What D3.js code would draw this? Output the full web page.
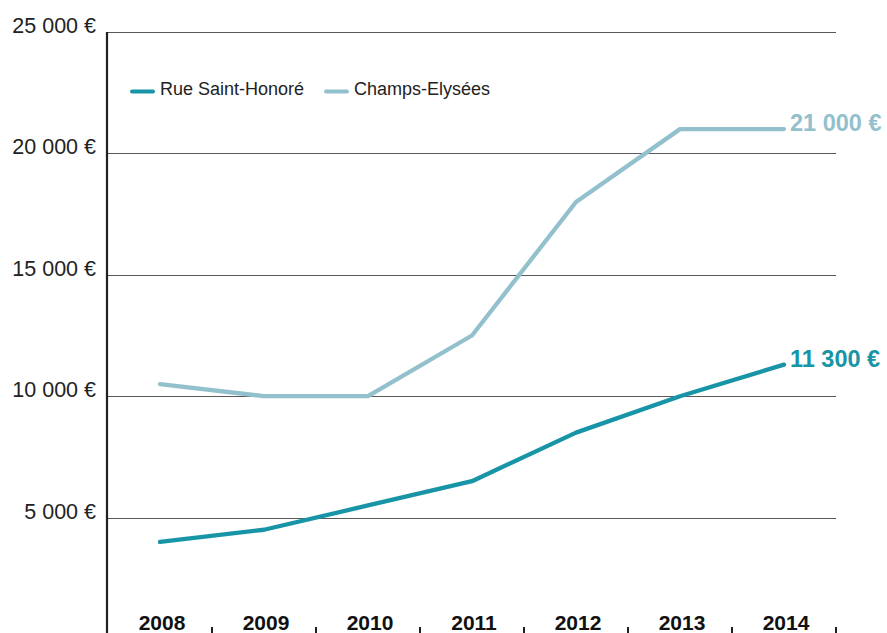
<!DOCTYPE html>
<html>
<head>
<meta charset="utf-8">
<script src="https://cdn.jsdelivr.net/npm/d3@7"></script>
<style>
  html, body { margin: 0; padding: 0; background: #fff; }
  svg { display: block; font-family: "Liberation Sans", Arial, Helvetica, sans-serif; }
</style>
</head>
<body>
<svg id="chart" width="887" height="633"></svg>
<script>
// Prix au m² : Rue Saint-Honoré vs Champs-Elysées
const years = ["2008", "2009", "2010", "2011", "2012", "2013", "2014"];
const saintHonore = [4000, 4500, 5500, 6500, 8500, 10000, 11300];
const champsElysees = [10500, 10000, 10000, 12500, 18000, 21000, 21000];
const yTicks = [5000, 10000, 15000, 20000, 25000];
const seriesNames = ["Rue Saint-Honoré", "Champs-Elysées"];
const seriesColors = ["#1795a7", "#92c0cc"];

const svg = d3.select("#chart");

const x = d3.scaleBand().domain(years).range([107, 835]);
const y = d3.scaleLinear().domain([0, 25000]).range([639, 32]);

const fmt = v => d3.format(",")(v).replace(/,/g, " ") + " €";

// horizontal gridlines
svg.append("g")
  .selectAll("line")
  .data(yTicks)
  .join("line")
  .attr("x1", 107).attr("x2", 836)
  .attr("y1", d => Math.round(y(d)) + 0.5)
  .attr("y2", d => Math.round(y(d)) + 0.5)
  .attr("stroke", "#5a5a5a")
  .attr("stroke-width", 1);

// y labels
svg.append("g")
  .selectAll("text")
  .data(yTicks)
  .join("text")
  .attr("x", 96)
  .attr("y", d => y(d) + 1)
  .attr("text-anchor", "end")
  .attr("font-size", 21.5)
  .attr("fill", "#222")
  .text(fmt);

// left axis line
svg.append("line")
  .attr("x1", 107).attr("x2", 107)
  .attr("y1", y(25000)).attr("y2", 633)
  .attr("stroke", "#231f20")
  .attr("stroke-width", 2.2);

// bottom tick marks at band edges
svg.append("g")
  .selectAll("line")
  .data(years)
  .join("line")
  .attr("x1", d => x(d) + x.bandwidth() + 1)
  .attr("x2", d => x(d) + x.bandwidth() + 1)
  .attr("y1", 627).attr("y2", 633)
  .attr("stroke", "#231f20")
  .attr("stroke-width", 2);

// x labels
svg.append("g")
  .selectAll("text")
  .data(years)
  .join("text")
  .attr("x", d => x(d) + x.bandwidth() / 2 + 3)
  .attr("y", 630)
  .attr("text-anchor", "middle")
  .attr("font-size", 21)
  .attr("font-weight", "bold")
  .attr("fill", "#111")
  .text(d => d);

// lines
const line = d3.line()
  .x((d, i) => x(years[i]) + x.bandwidth() / 2 + 1)
  .y(d => y(d));

const series = [saintHonore, champsElysees];
series.slice().reverse().forEach((vals, k) => {
  const idx = series.length - 1 - k;
  svg.append("path")
    .datum(vals)
    .attr("d", line)
    .attr("fill", "none")
    .attr("stroke", seriesColors[idx])
    .attr("stroke-width", 4.3)
    .attr("stroke-linecap", "round")
    .attr("stroke-linejoin", "round");
});

// end value labels
series.forEach((vals, i) => {
  const last = vals[vals.length - 1];
  svg.append("text")
    .attr("x", x(years[years.length - 1]) + x.bandwidth() / 2 + 7)
    .attr("y", y(last) + 2)
    .attr("font-size", 23.5)
    .attr("font-weight", "bold")
    .attr("fill", seriesColors[i])
    .text(fmt(last));
});

// legend
const legendX = [130, 324];
const lg = svg.append("g");
seriesNames.forEach((name, i) => {
  lg.append("line")
    .attr("x1", legendX[i] + 2).attr("x2", legendX[i] + 23)
    .attr("y1", 91.5).attr("y2", 91.5)
    .attr("stroke", seriesColors[i])
    .attr("stroke-width", 4)
    .attr("stroke-linecap", "round");
  lg.append("text")
    .attr("x", legendX[i] + 30)
    .attr("y", 95)
    .attr("font-size", 18)
    .attr("fill", "#222")
    .text(name);
});
</script>
</body>
</html>
